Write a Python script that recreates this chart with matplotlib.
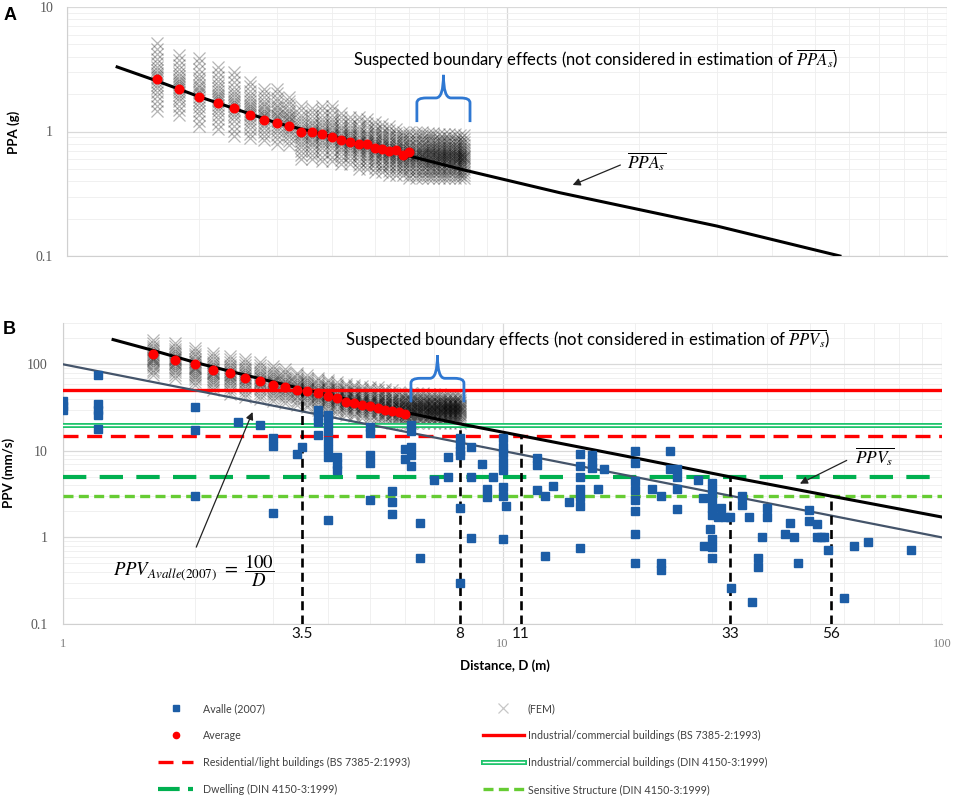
import numpy as np
import matplotlib
matplotlib.use('Agg')
import matplotlib.pyplot as plt
from matplotlib.lines import Line2D
from matplotlib.path import Path
from matplotlib.patches import PathPatch
import matplotlib.patheffects as pe

plt.rcParams['font.family'] = ['Lato', 'DejaVu Sans']
plt.rcParams['mathtext.fontset'] = 'stix'

# ---------------- data ----------------
fem_D = [1.6, 1.8, 2.0, 2.2, 2.4, 2.6, 2.8, 3.0, 3.2, 3.4, 3.6, 3.8, 4.0, 4.2, 4.4, 4.6,
         4.8, 5.0, 5.2, 5.4, 5.6, 5.8, 6.0, 6.2, 6.4, 6.6, 6.8, 7.0, 7.2, 7.4, 7.6, 7.8, 8.0]
# FEM scatter envelope per distance column (low / high)
ppa_fem_lo = [1.45, 1.35, 1.10, 1.05, 0.92, 0.88, 0.85, 0.80, 0.78, 0.60, 0.60, 0.58, 0.58,
              0.55, 0.55, 0.50, 0.50, 0.47, 0.47, 0.45, 0.45, 0.45, 0.42,
              0.42, 0.42, 0.42, 0.42, 0.42, 0.42, 0.42, 0.42, 0.42, 0.42]
ppa_fem_hi = [5.1, 4.1, 3.9, 3.3, 3.0, 2.5, 2.2, 2.2, 1.9, 1.6, 1.55, 1.6, 1.6, 1.4, 1.3, 1.3,
              1.25, 1.2, 1.15, 1.1, 1.05, 1.0, 1.0,
              1.0, 1.0, 0.98, 0.98, 0.95, 0.95, 0.95, 0.95, 0.93, 0.93]
ppv_fem_lo = [75, 70, 57, 50, 45, 42, 40, 38, 36, 34, 32, 30, 29, 27, 26, 25, 24, 23, 22, 22,
              21, 21, 20, 21, 21, 21, 21, 21, 21, 21, 21, 21, 21]
ppv_fem_hi = [190, 175, 155, 135, 125, 115, 105, 95, 88, 80, 75, 70, 66, 62, 60, 58, 56, 55,
              54, 52, 50, 48, 47, 47, 46, 46, 45, 45, 45, 44, 44, 44, 44]
fem_spread = [0.0, 0.08, 0.16, 0.23, 0.29, 0.34, 0.39, 0.43, 0.47, 0.50, 0.53, 0.57, 0.61,
              0.66, 0.71, 0.77, 0.84, 0.92, 1.0]

avg_D = [1.6, 1.8, 2.0, 2.2, 2.4, 2.6, 2.8, 3.0, 3.2, 3.4, 3.6, 3.8, 4.0, 4.2, 4.4, 4.6,
         4.8, 5.0, 5.2, 5.4, 5.6, 5.8, 6.0]
ppa_avg = [2.65, 2.18, 1.88, 1.68, 1.55, 1.35, 1.23, 1.16, 1.11, 1.0, 1.0, 0.96, 0.90, 0.855,
           0.82, 0.79, 0.79, 0.74, 0.73, 0.70, 0.71, 0.65, 0.69]
ppv_avg = [133, 111, 100, 85, 79, 69, 64, 57, 55, 51, 49, 46, 43, 41, 37, 36, 34, 33, 31, 30,
           29, 28, 27]

# fitted curves
ppa_fit_D = [1.3, 1.6, 2.0, 3.0, 5.0, 8.0, 13.2, 30.0, 57.1]
ppa_fit_V = [3.3, 2.55, 1.9, 1.17, 0.75, 0.49, 0.322, 0.174, 0.1]
ppv_fit_D = [1.3, 1.6, 2.0, 2.6, 3.5, 5.0, 8.0, 11.0, 20.0, 33.0, 56.0, 100.0]
ppv_fit_V = [193, 145, 105, 75, 52, 34, 20.5, 15, 8.3, 5.0, 3.0, 1.72]
avalle_fit_D = [1, 100]
avalle_fit_V = [100, 1]

# Avalle (2007) field data
avalle_D = [1.0, 1.0, 1.0, 1.2, 1.2, 1.2, 1.2, 1.2, 2.0, 2.0, 2.0, 2.5, 2.8, 3.0, 3.0, 3.0,
            3.4, 3.5, 3.8, 3.8, 3.8, 3.8, 4.0, 4.0, 4.0, 4.0, 4.0, 4.0, 4.0, 4.2, 4.2, 4.2,
            5.0, 5.0, 5.0, 5.0, 5.0, 5.6, 5.6, 5.6, 6.2, 6.2, 6.0, 6.0, 6.2, 6.2, 6.2,
            6.5, 6.5, 7.0, 7.5, 7.5, 8.0, 8.0, 8.0, 8.0, 8.0, 8.0, 8.5, 8.5, 8.5,
            9.0, 9.2, 9.2, 9.5, 10, 10, 10, 10, 10, 10, 10, 10.2, 10,
            12, 12, 12, 12.5, 12.5, 13, 14.2, 15, 15, 15, 15, 15, 15, 15,
            16, 16, 16, 16.5, 17, 20, 20, 20, 20, 20, 20, 20, 20,
            21.9, 23, 23, 23, 24, 24, 25, 25, 25, 25, 27.9, 28.6, 28.8,
            29.9, 29.9, 29.9, 29.9, 29.9, 29.7, 29.9, 29.9, 29.9, 31.4, 31, 32, 33,
            33.1, 35, 35, 36.3, 36.9, 38.1, 38.1, 40, 40, 39, 44, 45, 46, 47,
            49.9, 49.9, 52, 52, 53, 54, 55, 60, 63, 68, 85]
avalle_V = [38, 33, 30, 75, 35, 30, 26, 18, 32, 17.3, 3.0, 21.5, 20, 14, 11.5, 1.9,
            9.3, 11.1, 30, 25, 21.5, 15.4, 26, 21, 17, 13, 10.5, 8.5, 1.6, 8.5, 7, 6,
            19, 16, 9, 7.2, 2.7, 3.4, 2.6, 1.88, 20, 17, 10.5, 8, 11, 9, 6.6,
            1.46, 0.58, 4.6, 8.6, 5.0, 14, 12, 10, 9, 2.2, 0.3, 11.1, 5.0, 0.98,
            7.0, 3.6, 2.9, 5.0, 14, 11, 9.5, 7.5, 6, 3.8, 3.0, 2.3, 0.97,
            8.3, 6.8, 3.5, 3.05, 0.61, 3.9, 2.56, 9.3, 6.6, 5, 3.6, 2.9, 2.3, 0.76,
            9, 7.5, 6.3, 3.6, 6.1, 10, 7.2, 4.5, 3.5, 2.7, 2.0, 1.1, 0.51,
            3.66, 3.0, 0.5, 0.42, 10, 6.2, 6.2, 5.0, 3.6, 2.15, 4.6, 2.85, 0.8,
            4.2, 3.4, 2.7, 2.2, 1.8, 1.26, 0.95, 0.78, 0.58, 2.2, 1.72, 1.72, 1.72,
            0.26, 3.0, 2.4, 1.72, 0.18, 0.58, 0.45, 2.2, 1.7, 1.0, 1.1, 1.48, 1.0, 0.5,
            2.1, 1.53, 1.43, 1.0, 1.0, 1.0, 0.71, 0.2, 0.8, 0.89, 0.72]

# vibration limits
limit_labels = ['Industrial/commercial buildings (BS 7385-2:1993)',
                'Residential/light buildings (BS 7385-2:1993)',
                'Industrial/commercial buildings (DIN 4150-3:1999)',
                'Dwelling (DIN 4150-3:1999)',
                'Sensitive Structure (DIN 4150-3:1999)']
limit_values = [50, 15, 20, 5, 3]
cross_D = [3.5, 8, 11, 33, 56]
cross_V = [50, 20, 15, 5, 3]
cross_labels = ['3.5', '8', '11', '33', '56']

# ---------------- styles ----------------
C_RED = '#FF0000'
C_GREEN = '#00B050'
C_LGREEN = '#66CC33'
C_DIN = '#1FC46C'
C_BLUE = '#1C5DA6'
C_AVL = '#44546A'
C_BRACE = '#2F78D2'
GRID_MAJ = '#D9D9D9'
GRID_MIN = '#EEEEEE'
TICK_C = '#595959'
FEM_STYLE = dict(ls='none', marker='x', color='black', alpha=0.29, ms=8, mew=0.9)

W, H = 955, 796
fig = plt.figure(figsize=(W / 100, H / 100), dpi=100)


def px_axes(l, t, r, b):
    return fig.add_axes([l / W, 1 - b / H, (r - l) / W, (b - t) / H])


axA = px_axes(67, 7, 947, 256)
axB = px_axes(63, 323, 942, 624)

for ax in (axA, axB):
    ax.set_xscale('log')
    ax.set_yscale('log')
    ax.set_xlim(1, 100)
    ax.grid(which='major', color=GRID_MAJ, lw=0.9, zorder=0)
    ax.grid(which='minor', color=GRID_MIN, lw=0.6, zorder=0)
    ax.set_axisbelow(True)
    for s in ('top', 'right'):
        ax.spines[s].set_visible(False)
    for s in ('left', 'bottom'):
        ax.spines[s].set_color('#D0D0D0')
    ax.tick_params(which='both', length=0)
    ax.tick_params(axis='x', which='minor', labelbottom=False)
    ax.tick_params(axis='y', which='minor', labelleft=False)

axA.set_ylim(0.1, 10)
axB.set_ylim(0.1, 300)

# ---------------- Panel A ----------------
xs, ys = [], []
for d, lo, hi in zip(fem_D, ppa_fem_lo, ppa_fem_hi):
    for f in fem_spread:
        xs.append(d)
        ys.append(lo * (hi / lo) ** f)
axA.plot(xs, ys, zorder=2, **FEM_STYLE)
axA.plot(ppa_fit_D, ppa_fit_V, color='black', lw=2.2, zorder=4)
axA.plot(avg_D, ppa_avg, ls='none', marker='o', color=C_RED, ms=6.2, zorder=6)

axA.set_yticks([0.1, 1, 10])
axA.set_yticklabels(['0.1', '1', '10'], family='Liberation Serif', fontsize=10, color=TICK_C)
axA.tick_params(axis='y', pad=10)
axA.set_xticks([1, 10, 100])
axA.set_xticklabels(['', '', ''])


def brace(ax, x0, x1, y_bot, y_mid, y_top):
    xc = np.sqrt(x0 * x1)
    xa = x0 * (xc / x0) ** 0.35
    xb = x0 * (xc / x0) ** 0.72
    xa2 = x1 * (xc / x1) ** 0.35
    xb2 = x1 * (xc / x1) ** 0.72
    yc = y_bot * (y_mid / y_bot) ** 0.8
    verts = [(x0, y_bot), (x0, yc), (x0, y_mid), (xa, y_mid), (xb, y_mid), (xc, y_mid),
             (xc, y_top), (xc, y_mid), (xb2, y_mid), (xa2, y_mid), (x1, y_mid), (x1, yc),
             (x1, y_bot)]
    codes = [Path.MOVETO, Path.LINETO, Path.CURVE3, Path.CURVE3, Path.LINETO, Path.CURVE3,
             Path.CURVE3, Path.CURVE3, Path.CURVE3, Path.LINETO, Path.CURVE3, Path.CURVE3,
             Path.LINETO]
    ax.add_patch(PathPatch(Path(verts, codes), fill=False, ec=C_BRACE, lw=2.0,
                           transform=ax.transData, zorder=7, clip_on=False))


brace(axA, 6.24, 8.24, 1.19, 1.86, 2.85)
axA.text(15.9, 3.82,
         r'Suspected boundary effects (not considered in estimation of $\overline{PPA_s}$)',
         ha='center', va='center', fontsize=12, color='black', zorder=8)
axA.annotate('', xy=(14.1, 0.372), xytext=(18.1, 0.538),
             arrowprops=dict(arrowstyle='-|>', lw=0.9, color='#222222', mutation_scale=11,
                             shrinkA=0, shrinkB=0), zorder=8)
axA.text(20.8, 0.572, r'$\overline{PPA_s}$', ha='center', va='center', fontsize=12.5)

# ---------------- Panel B ----------------
xs, ys = [], []
for d, lo, hi in zip(fem_D, ppv_fem_lo, ppv_fem_hi):
    for f in fem_spread:
        xs.append(d)
        ys.append(lo * (hi / lo) ** f)
axB.plot(xs, ys, zorder=2, **FEM_STYLE)

h_bs_ind, = axB.plot([1, 100], [limit_values[0]] * 2, color=C_RED, lw=2.4, zorder=3)
h_bs_res, = axB.plot([1, 100], [limit_values[1]] * 2, color=C_RED, lw=2.4, dashes=(4.5, 2.6),
                     zorder=3)
h_din_ind, = axB.plot([1, 100], [limit_values[2]] * 2, color='white', lw=1.0, zorder=3,
                      path_effects=[pe.Stroke(linewidth=3.6, foreground=C_DIN), pe.Normal()])
h_dwel, = axB.plot([1, 100], [limit_values[3]] * 2, color=C_GREEN, lw=3.0, dashes=(5.6, 3.2),
                   zorder=3)
h_sens, = axB.plot([1, 100], [limit_values[4]] * 2, color=C_LGREEN, lw=2.4, dashes=(3.0, 1.6),
                   zorder=3)

axB.plot(avalle_fit_D, avalle_fit_V, color=C_AVL, lw=1.6, zorder=4)
axB.plot(ppv_fit_D, ppv_fit_V, color='black', lw=2.2, zorder=4)
axB.vlines(cross_D, 0.1, cross_V, colors='black', lw=1.9, linestyles=(0, (3.4, 2.0)), zorder=4.5)
axB.plot(avalle_D, avalle_V, ls='none', marker='s', color=C_BLUE, ms=5.7, zorder=5)
axB.plot(avg_D, ppv_avg, ls='none', marker='o', color=C_RED, ms=6.2, zorder=6)

axB.set_yticks([0.1, 1, 10, 100])
axB.set_yticklabels(['0.1', '1', '10', '100'], family='Liberation Serif', fontsize=10,
                    color=TICK_C)
axB.tick_params(axis='y', pad=11)
axB.set_xticks([1, 10, 100])
axB.set_xticklabels(['1', '10', '100'], family='Liberation Serif', fontsize=9, color='#808080')
axB.tick_params(axis='x', pad=10)

for d, lab in zip(cross_D, cross_labels):
    axB.annotate(lab, xy=(d, 0), xycoords=('data', 'axes fraction'), xytext=(0, -7),
                 textcoords='offset points', ha='center', va='center', fontsize=11,
                 color='#111111')

brace(axB, 6.19, 8.17, 36.4, 68.9, 127)
axB.text(15.6, 194,
         r'Suspected boundary effects (not considered in estimation of $\overline{PPV_s}$)',
         ha='center', va='center', fontsize=12, color='black', zorder=8)
axB.annotate('', xy=(47.5, 4.18), xytext=(60.7, 7.76),
             arrowprops=dict(arrowstyle='-|>', lw=0.9, color='#222222', mutation_scale=11,
                             shrinkA=0, shrinkB=0), zorder=8)
axB.text(70.4, 8.48, r'$\overline{PPV_s}$', ha='center', va='center', fontsize=12.5)
axB.annotate('', xy=(2.70, 28.1), xytext=(2.01, 0.773),
             arrowprops=dict(arrowstyle='-|>', lw=0.9, color='#222222', mutation_scale=11,
                             shrinkA=0, shrinkB=0), zorder=8)
axB.text(1.98, 0.416, r'$PPV_{Avalle(2007)}\ =\ \dfrac{100}{D}$', ha='center', va='center',
         fontsize=13.5)

# ---------------- figure labels ----------------
fig.text(4 / W, 1 - 15 / H, 'A', fontsize=13, fontweight='bold', family='Liberation Sans',
         ha='left', va='center')
fig.text(3 / W, 1 - 329 / H, 'B', fontsize=13, fontweight='bold', family='Liberation Sans',
         ha='left', va='center')
fig.text(14 / W, 1 - 132 / H, 'PPA (g)', rotation=90, fontsize=9.5, fontweight='bold',
         ha='center', va='center')
fig.text(9 / W, 1 - 473 / H, 'PPV (mm/s)', rotation=90, fontsize=9.5, fontweight='bold',
         ha='center', va='center')
fig.text(505 / W, 1 - 666 / H, 'Distance, D (m)', fontsize=9.5, fontweight='bold',
         ha='center', va='center')

# ---------------- legend ----------------
lh_avalle = Line2D([], [], ls='none', marker='s', color=C_BLUE, ms=4.5)
lh_avg = Line2D([], [], ls='none', marker='o', color=C_RED, ms=4.5)
lh_fem = Line2D([], [], ls='none', marker='x', color='black', alpha=0.22, ms=7, mew=0.9)
lh_dwel = Line2D([], [], color=C_GREEN, lw=3.0, dashes=(5.2, 2.0))

leg_kw = dict(loc='upper left', frameon=False, fontsize=7.7, labelcolor='#404040',
              labelspacing=1.5, borderpad=0, borderaxespad=0)
leg1 = fig.legend([lh_avalle, lh_avg, h_bs_res, lh_dwel],
                  ['Avalle (2007)', 'Average', limit_labels[1], limit_labels[3]],
                  bbox_to_anchor=(158 / W, 1 - 703 / H), handlelength=3.3, handletextpad=0.9,
                  **leg_kw)
leg2 = fig.legend([lh_fem, h_bs_ind, h_din_ind, h_sens],
                  ['(FEM)', limit_labels[0], limit_labels[2], limit_labels[4]],
                  bbox_to_anchor=(483 / W, 1 - 703 / H), handlelength=3.8, handletextpad=0.4,
                  **leg_kw)

fig.savefig('out.png', dpi=100)
